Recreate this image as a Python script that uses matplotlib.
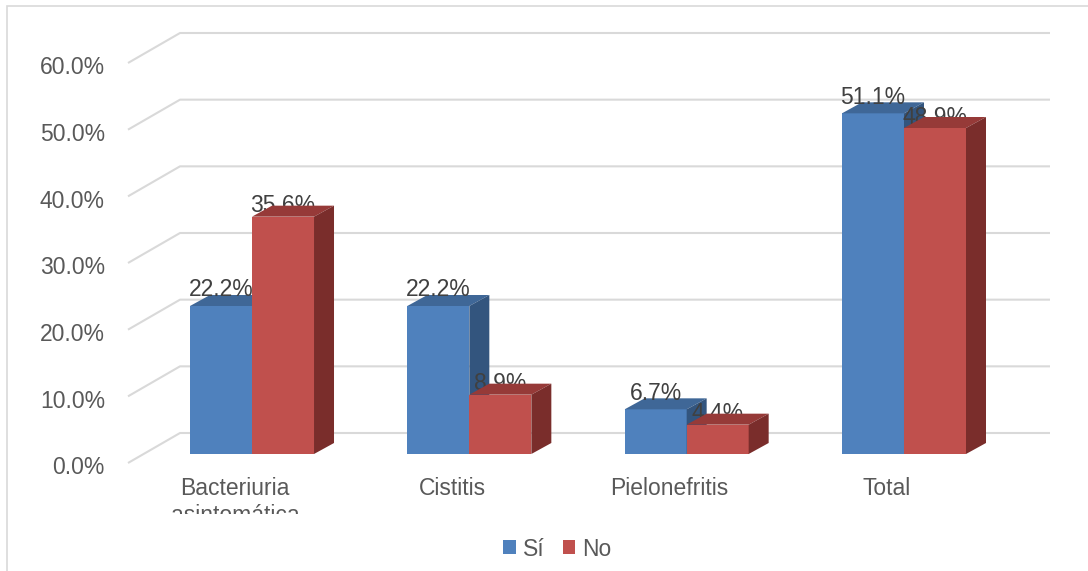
import numpy as np
import matplotlib.pyplot as plt
from matplotlib.patches import Polygon, Rectangle, Patch
from matplotlib.transforms import Bbox, TransformedBbox

plt.rcParams['font.family'] = ['Liberation Sans', 'DejaVu Sans']

categorias = ['Bacteriuria\nasintomática', 'Cistitis', 'Pielonefritis', 'Total']
si = [22.2, 22.2, 6.7, 51.1]
no = [35.6, 8.9, 4.4, 48.9]
ticks = [0, 10, 20, 30, 40, 50, 60]
series = ['Sí', 'No']

azul = ['#4F81BD', '#3F6797', '#33557E']   # frente, tapa, lado
rojo = ['#C0504D', '#963A38', '#7A2D2B']
gris = '#D9D9D9'

fig = plt.figure(figsize=(10.88, 5.71), dpi=100)
ax = fig.add_axes([128/1088, 1-454/571, 922/1088, 400/571])
ax.set_xlim(-0.5706, 3.6718)
ax.set_ylim(0, 60)
ax.axis('off')

# marco exterior
fig.patches.append(Rectangle((7/1088, -0.1), 1.2, 1 - 6/571 + 0.1, transform=fig.transFigure,
                             fill=False, ec=gris, lw=1.2))

w = 0.2853          # ancho de barra
px, py = 0.092, 1.65  # profundidad de barra
x_frente, x_fondo = -0.5706, -0.3313
y_frente, y_fondo = -1.35, 3.15

# lineas de cuadricula (pared lateral + fondo)
for v in ticks:
    ax.plot([x_frente, x_fondo, 3.6718], [v + y_frente, v + y_fondo, v + y_fondo],
            color=gris, lw=1.5, zorder=0.5, clip_on=False, solid_capstyle='butt')
    ax.annotate(f'{v:.1f}%', (x_frente, v + y_frente), xytext=(-23, -5),
                textcoords='offset pixels', ha='right', va='center',
                fontsize=16.5, color='#595959', annotation_clip=False)

def barra(x0, h, col, z):
    ax.add_patch(Rectangle((x0, 0), w, h, fc=col[0], ec='none', zorder=z, clip_on=False))
    ax.add_patch(Polygon([(x0, h), (x0 + px, h + py), (x0 + w + px, h + py), (x0 + w, h)],
                         fc=col[1], ec='none', zorder=z, clip_on=False))
    ax.add_patch(Polygon([(x0 + w, 0), (x0 + w + px, py), (x0 + w + px, h + py), (x0 + w, h)],
                         fc=col[2], ec='none', zorder=z, clip_on=False))

x = np.arange(len(categorias))
for i in x:
    for x0, h, col, z, dy in [(i - w, si[i], azul, 2, 16), (i, no[i], rojo, 3, 11)]:
        ax.annotate(f'{h:.1f}%', (x0 + w/2, h), xytext=(0, dy), textcoords='offset pixels',
                    ha='center', va='center', fontsize=16.5, color='#404040',
                    zorder=2.5, annotation_clip=False)
        barra(x0, h, col, z)

clip = TransformedBbox(Bbox([[0, 1 - 514/571], [1, 1]]), fig.transFigure)
for i, c in zip(x, categorias):
    t = ax.annotate(c, (i - 0.078, 0), xytext=(0, -23), textcoords='offset pixels',
                    ha='center', va='top', fontsize=16.5, color='#595959',
                    annotation_clip=False)
    t.set_clip_box(clip)
    t.set_clip_on(True)

fig.legend([Patch(fc=azul[0]), Patch(fc=rojo[0])], series, loc='center',
           bbox_to_anchor=(0.5124, 1 - 549/571), ncol=2, frameon=False,
           fontsize=16.5, handlelength=0.55, handleheight=0.55, handletextpad=0.3,
           columnspacing=0.8, labelcolor='#595959')

fig.savefig('out.png', dpi=100)
